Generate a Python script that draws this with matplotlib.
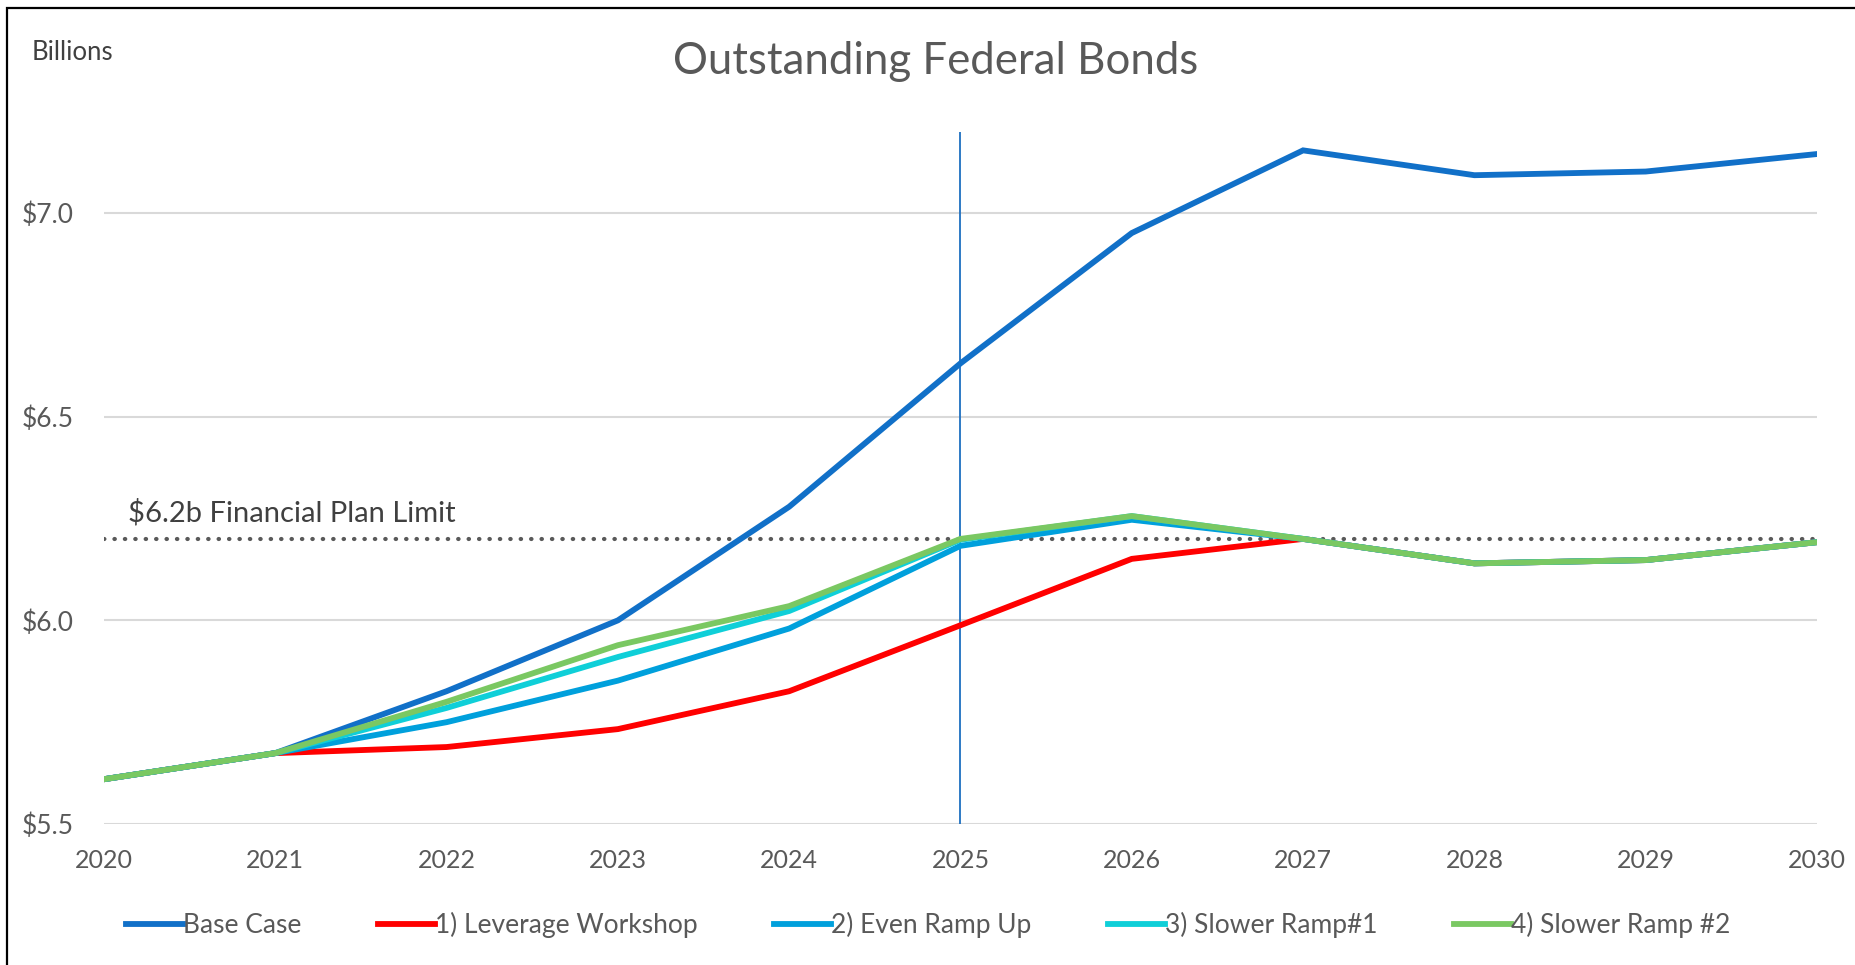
import matplotlib.pyplot as plt
from matplotlib.patches import Rectangle

plt.rcParams['font.family'] = ['Lato', 'DejaVu Sans']

# ---------------------------------------------------------
# Data (billions of dollars)
# ---------------------------------------------------------
years = [2020, 2021, 2022, 2023, 2024, 2025, 2026, 2027, 2028, 2029, 2030]

base_case = [5.61, 5.674, 5.826, 6.00, 6.279, 6.631, 6.951, 7.154, 7.093, 7.102, 7.145]
leverage_workshop = [5.61, 5.674, 5.689, 5.733, 5.826, 5.988, 6.151, 6.20, 6.14, 6.148, 6.192]
even_ramp_up = [5.61, 5.674, 5.75, 5.852, 5.98, 6.183, 6.247, 6.20, 6.14, 6.148, 6.192]
slower_ramp_1 = [5.61, 5.674, 5.785, 5.91, 6.023, 6.198, 6.256, 6.20, 6.14, 6.148, 6.192]
slower_ramp_2 = [5.61, 5.674, 5.80, 5.939, 6.035, 6.20, 6.256, 6.20, 6.14, 6.148, 6.192]

series = [base_case, leverage_workshop, even_ramp_up, slower_ramp_1, slower_ramp_2]
labels = ["Base Case", "1) Leverage Workshop", "2) Even Ramp Up",
          "3) Slower Ramp#1", "4) Slower Ramp #2"]
colors = ["#1170C8", "#FF0000", "#00A0DC", "#0FCFD8", "#7AC862"]

plan_limit = 6.2
marker_year = 2025
y_ticks = [5.5, 6.0, 6.5, 7.0]
y_tick_labels = ["$5.5", "$6.0", "$6.5", "$7.0"]

TEXT = "#595959"

# ---------------------------------------------------------
# Figure
# ---------------------------------------------------------
fig = plt.figure(figsize=(18.56, 9.65), dpi=100)
ax = fig.add_axes([0.056, 0.1461, 0.923, 0.7175])

for y, label, c in zip(series, labels, colors):
    ax.plot(years, y, color=c, linewidth=4.2, label=label,
            solid_joinstyle="miter", zorder=3)

ax.axhline(plan_limit, color=TEXT, linewidth=3.0,
           linestyle=(0, (0.1, 2.4)), dash_capstyle="round", zorder=2)
ax.axvline(marker_year, color="#1E6FC0", linewidth=1.3, zorder=2)
ax.text(2020.14, plan_limit + 0.03, "$6.2b Financial Plan Limit",
        fontsize=21, color="#404040", va="bottom", ha="left")

ax.set_xlim(2020, 2030)
ax.set_ylim(5.5, 7.2)
ax.set_xticks(years)
ax.set_xticklabels([str(y) for y in years])
ax.set_yticks(y_ticks)
ax.set_yticklabels(y_tick_labels)
ax.tick_params(axis="x", length=0, labelsize=18, colors=TEXT, pad=18)
ax.tick_params(axis="y", length=0, labelsize=19, colors=TEXT, pad=22)
ax.grid(axis="y", color="#D9D9D9", linewidth=1.5)
ax.set_axisbelow(True)
for s in ax.spines.values():
    s.set_visible(False)

fig.text(0.504, 0.936, "Outstanding Federal Bonds", fontsize=31.5,
         color=TEXT, ha="center", va="center")
fig.text(0.017, 0.946, "Billions", fontsize=18.5, color="#404040",
         ha="left", va="center")

fig.legend(loc="center", bbox_to_anchor=(0.5, 0.041), ncol=5, frameon=False,
           fontsize=19, handlelength=2.16, handletextpad=0.0,
           columnspacing=2.9, labelcolor=TEXT)

# outer chart border
fig.patches.append(Rectangle((0.004, -0.05), 1.2, 0.9418 + 0.05 + 0.0497,
                             transform=fig.transFigure, fill=False,
                             edgecolor="black", linewidth=1.6))

fig.savefig("out.png", dpi=100)
